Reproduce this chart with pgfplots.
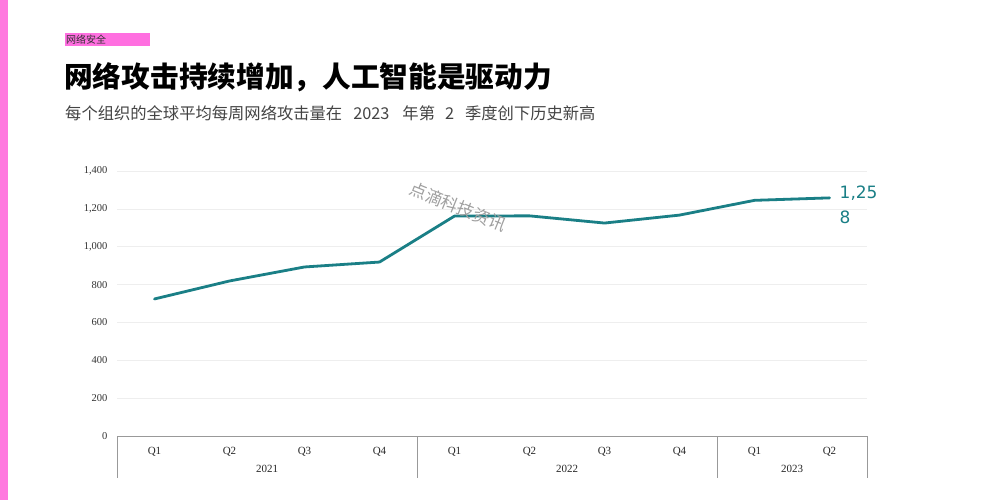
\documentclass[border=0pt]{standalone}
\usepackage{pgfplots}
\pgfplotsset{compat=1.18}
\usepackage{fontspec}
\setmainfont{Liberation Serif}
\newfontfamily\cjk{Noto Sans CJK SC}
\newfontfamily\labelfont{DejaVu Sans}
\definecolor{lineteal}{HTML}{1A7F86}
\definecolor{pinkbar}{HTML}{FF7ADF}
\definecolor{tagpink}{HTML}{FF6FE0}
\definecolor{subgrey}{HTML}{444444}
\definecolor{gridgrey}{HTML}{EEEEEE}
\definecolor{axisgrey}{HTML}{999999}
\begin{document}
\begin{tikzpicture}[x=1pt,y=1pt]
\fill[white] (0,0) rectangle (989,-500);
\fill[pinkbar] (0,0) rectangle (8,-500);
\fill[tagpink] (65,-33) rectangle (150,-46);
\node[anchor=west, inner sep=0] at (66,-39.5) {\cjk\fontsize{10}{12}\selectfont\color{black!80}网络安全};
\node[anchor=west, inner sep=0] at (64,-77) {\cjk\bfseries\fontsize{28.7}{32}\selectfont 网络攻击持续增加，人工智能是驱动力};
\node[anchor=west, inner sep=0] at (65,-113) {\cjk\fontsize{16.3}{18}\selectfont\color{subgrey}每个组织的全球平均每周网络攻击量在\hspace{11pt}2023\hspace{13pt}年第\hspace{10pt}2\hspace{11pt}季度创下历史新高};
\begin{axis}[
  at={(117pt,-436pt)}, anchor=south west,
  scale only axis, width=750pt, height=265pt,
  xmin=-0.5, xmax=9.5, ymin=0, ymax=1400,
  clip=false,
  axis x line=bottom, axis y line=left,
  x axis line style={draw=axisgrey, line width=0.8pt, -},
  y axis line style={draw=none},
  major tick length=0pt,
  ytick={0,200,...,1400},
  ymajorgrids, grid style={gridgrey, line width=0.6pt},
  /pgf/number format/assume math mode=true,
  /pgf/number format/1000 sep={,},
  yticklabel style={font=\fontsize{10.5}{12}\selectfont, xshift=-6pt, text=black!80},
  xtick={0,...,9},
  xticklabels={Q1,Q2,Q3,Q4,Q1,Q2,Q3,Q4,Q1,Q2},
  xticklabel style={font=\fontsize{11}{12}\selectfont, yshift=-8pt, text=black!85},
]
\addplot[lineteal, line width=2.8pt, line join=round, line cap=round] coordinates {
(0,724) (1,819) (2,893) (3,919) (4,1162) (5,1163) (6,1125) (7,1167) (8,1245) (9,1258)};
\draw[axisgrey, line width=0.8pt] (axis cs:-0.5,0) -- ([yshift=-42pt]axis cs:-0.5,0);
\draw[axisgrey, line width=0.8pt] (axis cs:3.5,0) -- ([yshift=-42pt]axis cs:3.5,0);
\draw[axisgrey, line width=0.8pt] (axis cs:7.5,0) -- ([yshift=-42pt]axis cs:7.5,0);
\draw[axisgrey, line width=0.8pt] (axis cs:9.5,0) -- ([yshift=-42pt]axis cs:9.5,0);
\node[font=\fontsize{11}{12}\selectfont, text=black!85] at ([yshift=-33pt]axis cs:1.5,0) {2021};
\node[font=\fontsize{11}{12}\selectfont, text=black!85] at ([yshift=-33pt]axis cs:5.5,0) {2022};
\node[font=\fontsize{11}{12}\selectfont, text=black!85] at ([yshift=-33pt]axis cs:8.5,0) {2023};
\node[anchor=north west, align=left, inner sep=0, text=lineteal, font=\labelfont\fontsize{17}{25}\selectfont] at ([xshift=10pt, yshift=12pt]axis cs:9,1258) {1,25\\8};
\end{axis}
\node[rotate=-22, text=gray!75, font=\cjk\fontsize{17}{20}\selectfont] at (458,-207) {点滴科技资讯};
\pgfresetboundingbox
\useasboundingbox (0,0) rectangle (989,-500);
\end{tikzpicture}
\end{document}
